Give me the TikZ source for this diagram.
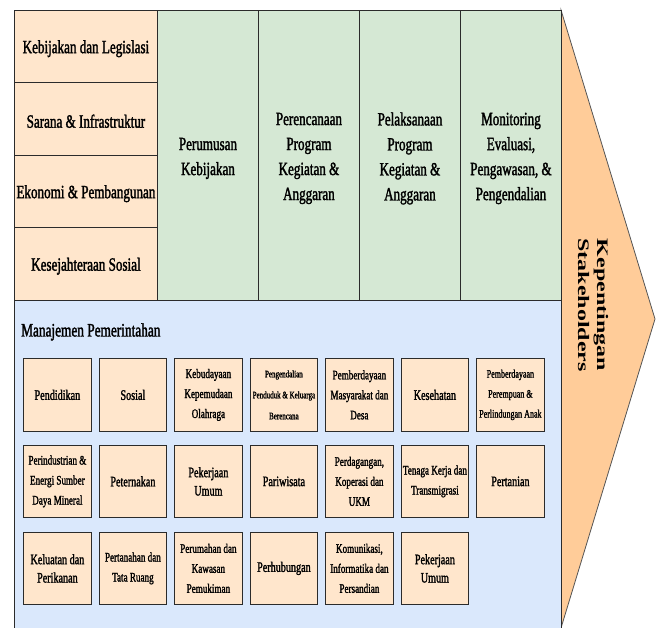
\documentclass[tikz,border=0pt]{standalone}
\usepackage{fontspec}
\setmainfont{Liberation Serif}
\newfontfamily\cf[FakeStretch=0.7,FakeBold=1.6]{Liberation Serif}
\newfontfamily\kf[FakeStretch=1.5]{Liberation Serif}
\definecolor{lor}{HTML}{FFE6CC}
\definecolor{lgr}{HTML}{D5E8D4}
\definecolor{lbl}{HTML}{DAE8FC}
\definecolor{aor}{HTML}{FFCC99}
\definecolor{bd}{HTML}{2B2B2B}
\begin{document}
\begin{tikzpicture}[x=1pt,y=-1pt,
  cell/.style={draw=bd, line width=0.9pt, inner sep=0pt, anchor=north west, align=center},
  rowbox/.style={cell, fill=lor, minimum width=143pt, minimum height=72.5pt},
  rowtext/.style={align=center, inner sep=0pt, font=\cf\fontsize{18.7}{25}\selectfont},
  colbox/.style={cell, fill=lgr, minimum width=101pt, minimum height=290pt},
  coltext/.style={align=center, inner sep=0pt, font=\cf\fontsize{18.7}{25}\selectfont},
  unit/.style={draw=bd, line width=1.3pt, fill=lor, minimum width=67.5pt, minimum height=72.5pt, inner sep=0pt, align=center, anchor=north west},
  fL/.style={font=\cf\fontsize{14.5}{18.3}\selectfont},
  fM/.style={font=\cf\fontsize{13}{20}\selectfont},
  fS/.style={font=\cf\fontsize{11.5}{20}\selectfont},
  fXS/.style={font=\cf\fontsize{10}{21}\selectfont}
]
\useasboundingbox (0,0) rectangle (656,628);
\clip (0,0) rectangle (656,628);
% arrow
\draw[draw=bd!80, line width=0.8pt, fill=aor] (561,10) -- (655,319) -- (561,628) -- cycle;
\node[rotate=-90, align=center, font=\kf\bfseries\fontsize{16}{19}\selectfont] (arrowtext) at (593,305) {Kepentingan\\Stakeholders};
% blue area
\draw[draw=bd, line width=0.9pt, fill=lbl] (14,300) rectangle (561,640);
\node[anchor=base west, inner sep=0pt, font=\cf\fontsize{19}{23}\selectfont] (mp) at (21,336.5) {Manajemen Pemerintahan};
% left rows
\node[rowbox] (r1) at (14,10) {};
\node[rowbox] (r2) at (14,82.5) {};
\node[rowbox] (r3) at (14,155) {};
\node[rowbox] (r4) at (14,227.5) {};
\node[rowtext] (r1t) at ([yshift=-2pt]r1.center) {Kebijakan dan Legislasi};
\node[rowtext] (r2t) at ([yshift=-2pt]r2.center) {Sarana \& Infrastruktur};
\node[rowtext] (r3t) at ([yshift=-2pt]r3.center) {Ekonomi \& Pembangunan};
\node[rowtext] (r4t) at ([yshift=-2pt]r4.center) {Kesejahteraan Sosial};
% green columns
\node[colbox] (c1) at (157,10) {};
\node[colbox] (c2) at (258,10) {};
\node[colbox] (c3) at (359,10) {};
\node[colbox] (c4) at (460,10) {};
\node[coltext] (c1t) at ([yshift=-3pt]c1.center) {Perumusan\\Kebijakan};
\node[coltext] (c2t) at ([yshift=-3pt]c2.center) {Perencanaan\\Program\\Kegiatan \&\\Anggaran};
\node[coltext] (c3t) at ([yshift=-3pt]c3.center) {Pelaksanaan\\Program\\Kegiatan \&\\Anggaran};
\node[coltext] (c4t) at ([yshift=-3pt]c4.center) {Monitoring\\Evaluasi,\\Pengawasan, \&\\Pengendalian};
% units row 1
\node[unit, fL] (u11) at (23,358) {Pendidikan};
\node[unit, fL] (u12) at (98.5,358) {Sosial};
\node[unit, fM] (u13) at (174,358) {Kebudayaan\\Kepemudaan\\Olahraga};
\node[unit, fXS] (u14) at (249.5,358) {Pengendalian\\Penduduk \& Keluarga\\Berencana};
\node[unit, fM] (u15) at (325,358) {Pemberdayaan\\Masyarakat dan\\Desa};
\node[unit, fL] (u16) at (400.5,358) {Kesehatan};
\node[unit, fS] (u17) at (476,358) {Pemberdayaan\\Perempuan \&\\Perlindungan Anak};
% units row 2
\node[unit, fM] (u21) at (23,444.5) {Perindustrian \&\\Energi Sumber\\Daya Mineral};
\node[unit, fL] (u22) at (98.5,444.5) {Peternakan};
\node[unit, fL] (u23) at (174,444.5) {Pekerjaan\\Umum};
\node[unit, fL] (u24) at (249.5,444.5) {Pariwisata};
\node[unit, fM] (u25) at (325,444.5) {Perdagangan,\\Koperasi dan\\UKM};
\node[unit, fM] (u26) at (400.5,444.5) {Tenaga Kerja dan\\Transmigrasi};
\node[unit, fL] (u27) at (476,444.5) {Pertanian};
% units row 3
\node[unit, fL] (u31) at (23,531.5) {Keluatan dan\\Perikanan};
\node[unit, fM] (u32) at (98.5,531.5) {Pertanahan dan\\Tata Ruang};
\node[unit, fM] (u33) at (174,531.5) {Perumahan dan\\Kawasan\\Pemukiman};
\node[unit, fL] (u34) at (249.5,531.5) {Perhubungan};
\node[unit, fM] (u35) at (325,531.5) {Komunikasi,\\Informatika dan\\Persandian};
\node[unit, fL] (u36) at (400.5,531.5) {Pekerjaan\\Umum};
\end{tikzpicture}
\end{document}
